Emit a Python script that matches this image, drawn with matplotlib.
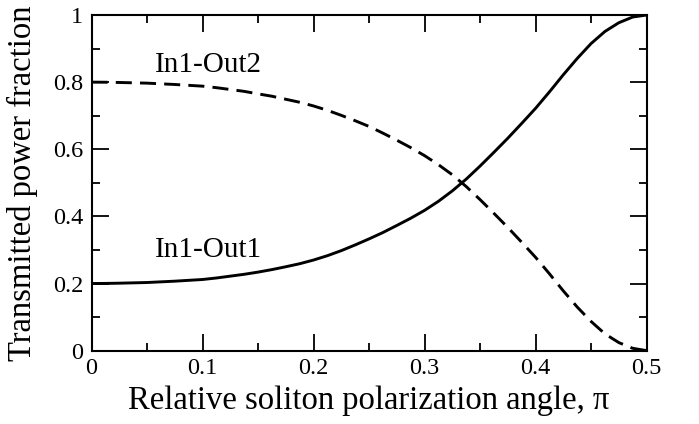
import matplotlib
matplotlib.use("Agg")
import matplotlib.pyplot as plt
from matplotlib.ticker import MultipleLocator, FuncFormatter

plt.rcParams["font.family"] = ["Liberation Serif", "DejaVu Serif"]

# polarization angle (units of pi) and transmitted fractions
angle = [0.0, 0.0125, 0.025, 0.0375, 0.05, 0.0625, 0.075, 0.0875, 0.1, 0.1125,
         0.125, 0.1375, 0.15, 0.1625, 0.175, 0.1875, 0.2, 0.2125, 0.225, 0.2375,
         0.25, 0.2625, 0.275, 0.2875, 0.3, 0.3125, 0.325, 0.3375, 0.35, 0.3625,
         0.375, 0.3875, 0.4, 0.4125, 0.425, 0.4375, 0.45, 0.4625, 0.475, 0.4875, 0.5]
out1 = [0.200, 0.2003, 0.201, 0.202, 0.203, 0.205, 0.207, 0.2095, 0.212, 0.2165,
        0.222, 0.2275, 0.234, 0.2415, 0.250, 0.259, 0.270, 0.283, 0.298, 0.315,
        0.333, 0.352, 0.373, 0.3945, 0.418, 0.445, 0.476, 0.511, 0.550, 0.591,
        0.633, 0.677, 0.722, 0.771, 0.822, 0.8705, 0.915, 0.951, 0.977, 0.994, 1.000]
out2 = [0.800, 0.7997, 0.799, 0.798, 0.797, 0.795, 0.793, 0.7905, 0.788, 0.7835,
        0.778, 0.7725, 0.765, 0.758, 0.749, 0.740, 0.729, 0.716, 0.701, 0.685,
        0.668, 0.648, 0.627, 0.605, 0.581, 0.554, 0.524, 0.489, 0.450, 0.409,
        0.367, 0.323, 0.278, 0.229, 0.178, 0.130, 0.087, 0.050, 0.024, 0.007, 0.000]
labels = ["In1-Out1", "In1-Out2"]

fig = plt.figure(figsize=(6.99, 4.24), dpi=100)
ax = fig.add_axes([0.131, 0.173, 0.794, 0.7916])

ax.plot(angle, out1, color="black", lw=2.1)
ax.plot(angle, out2, color="black", lw=2.1, ls=(0, (5.5, 2.8)))

ax.text(0.057, 0.28, labels[0], fontsize=21)
ax.text(0.057, 0.83, labels[1], fontsize=21)

ax.set_xlim(0, 0.5)
ax.set_ylim(0, 1)
ax.xaxis.set_major_locator(MultipleLocator(0.1))
ax.xaxis.set_minor_locator(MultipleLocator(0.05))
ax.yaxis.set_major_locator(MultipleLocator(0.2))
ax.yaxis.set_minor_locator(MultipleLocator(0.1))
fmt = FuncFormatter(lambda v, p: "%g" % round(v, 3))
ax.xaxis.set_major_formatter(fmt)
ax.yaxis.set_major_formatter(fmt)

ax.tick_params(which="both", direction="in", top=True, right=True, width=1.3)
ax.tick_params(which="major", length=12, labelsize=17.5)
ax.tick_params(which="minor", length=6)
ax.tick_params(axis="x", pad=5)
ax.tick_params(axis="y", pad=6)
for sp in ax.spines.values():
    sp.set_linewidth(1.5)

ax.set_xlabel("Relative soliton polarization angle, π", fontsize=23.5, labelpad=5)
ax.set_ylabel("Transmitted power fraction", fontsize=23.5, labelpad=11)

fig.savefig("out.png", dpi=100)
